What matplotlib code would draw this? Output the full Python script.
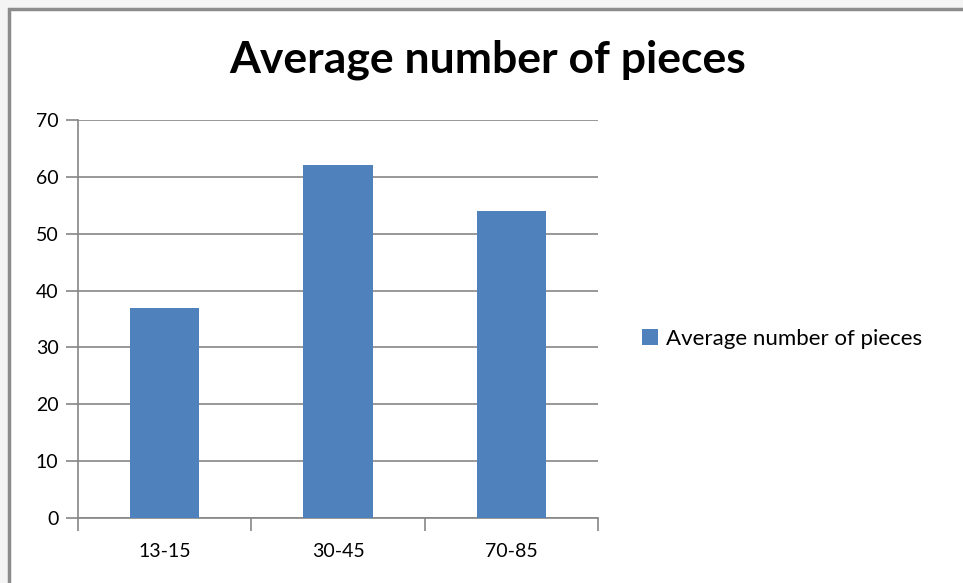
import matplotlib.pyplot as plt
from matplotlib.patches import Rectangle

categories = ['13-15', '30-45', '70-85']
values = [37, 62, 54]
series_name = 'Average number of pieces'

plt.rcParams['font.family'] = ['Lato', 'DejaVu Sans']

fig = plt.figure(figsize=(9.63, 5.83), dpi=100)
fig.patch.set_facecolor('#f4f4f4')

# chart area with grey left/top border
fig.patches.append(Rectangle((9 / 963, -0.1), 1.1, (583 - 9) / 583 + 0.1,
                             transform=fig.transFigure, facecolor='white',
                             edgecolor='#8c8c8c', linewidth=2.5, zorder=-10))

ax = fig.add_axes([78 / 963, 65 / 583, 520 / 963, 398 / 583])
ax.set_zorder(5)
ax.set_facecolor('none')
x = range(len(categories))
ax.bar(x, values, width=0.4, color='#4f81bd', label=series_name, zorder=3)

ax.set_xlim(-0.5, 2.5)
ax.set_ylim(0, 70)
ax.set_yticks(range(0, 71, 10))
ax.yaxis.grid(True, color='#868686', linewidth=1.2)
ax.set_axisbelow(True)
for s in ['top', 'right']:
    ax.spines[s].set_visible(False)
for s in ['left', 'bottom']:
    ax.spines[s].set_color('#868686')
    ax.spines[s].set_linewidth(1.2)

ax.set_xticks([-0.5, 0.5, 1.5, 2.5])
ax.set_xticklabels([])
ax.set_xticks(list(x), minor=True)
ax.set_xticklabels(categories, minor=True)
ax.tick_params(axis='x', which='major', length=9, width=1.2, color='#868686')
ax.tick_params(axis='x', which='minor', length=0, pad=18, labelsize=14)
ax.tick_params(axis='y', length=9, width=1.2, color='#868686', labelsize=14, pad=5)

fig.text(488 / 963, 1 - 60 / 583, 'Average number of pieces', ha='center', va='center',
         fontsize=32, fontweight='bold', zorder=6)

ax.legend(loc='center left', bbox_to_anchor=(622 / 963, 1 - 339 / 583),
          bbox_transform=fig.transFigure, frameon=False, fontsize=16,
          handlelength=0.7, handleheight=0.7, handletextpad=0.4)

fig.savefig('out.png', dpi=100, facecolor=fig.get_facecolor())
